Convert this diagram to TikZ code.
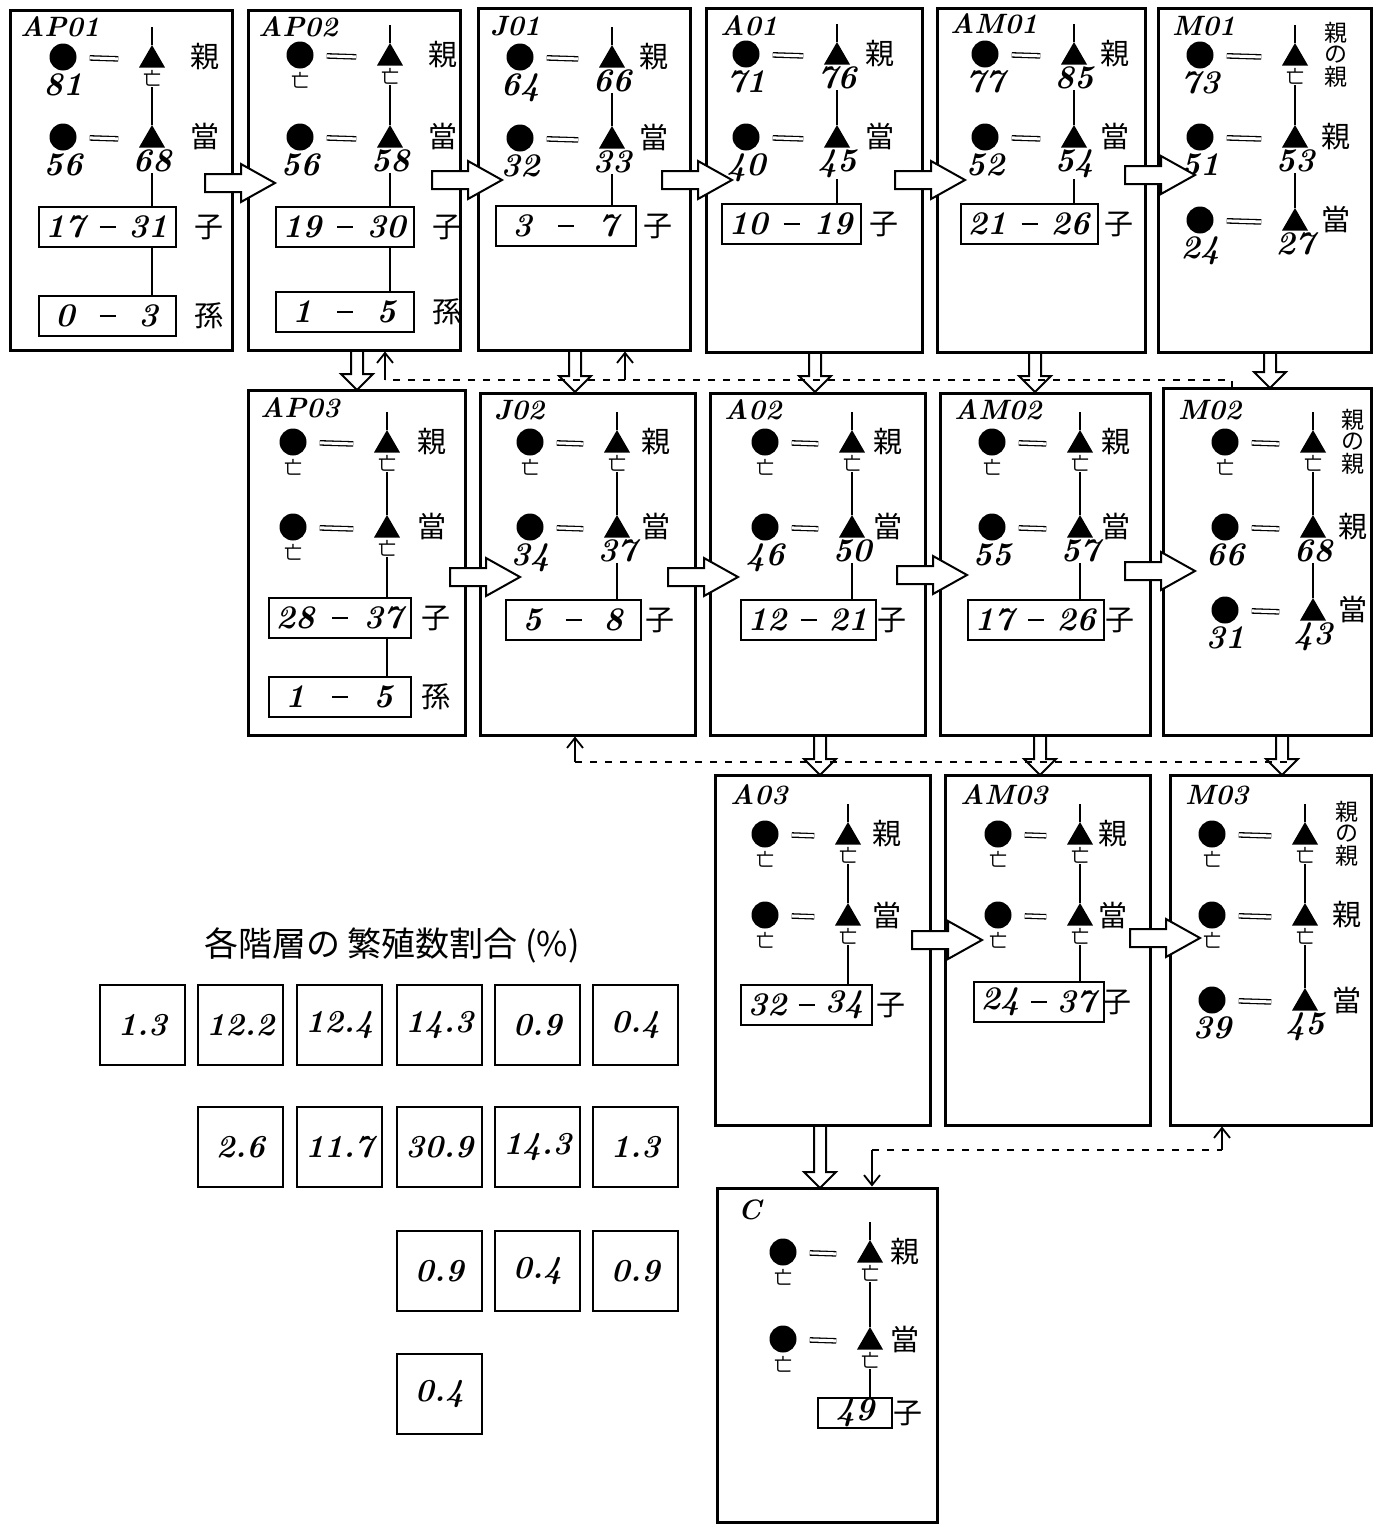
\documentclass[tikz,border=0pt]{standalone}
\usepackage{fontspec}
\newfontfamily\jp{Noto Sans CJK JP}
\usetikzlibrary{shapes.geometric,arrows.meta,calc}
\newcommand\nm[1]{{\fontsize{33}{33}\selectfont\bfseries\itshape #1}}
\newcommand\dd{{\jp\fontsize{18}{18}\selectfont 亡}}
\newcommand\X{當}
\newcommand\oya{{\fontsize{23}{23}\selectfont\shortstack{親\\の\\親}}}
\def\cx{45}\def\tx{137}\def\kx{180}
\tikzset{
 box/.style={draw, line width=3pt, inner sep=0pt},
 fem/.style={circle, fill=black, minimum size=27pt, inner sep=0pt},
 mal/.style={regular polygon, regular polygon sides=3, fill=black, minimum size=30pt, inner sep=0pt},
 lab/.style={inner sep=1pt},
 kan/.style={font=\jp\fontsize{29}{29}\selectfont, inner sep=0pt},
 lbl/.style={font=\fontsize{28}{28}\selectfont\bfseries\itshape, anchor=west, inner sep=0pt},
 rng/.style={draw, line width=2.6pt, minimum width=148pt, minimum height=40pt, inner sep=0pt},
 link/.style={line width=2.4pt},
 pair/.style={double, double distance=3pt, line width=1.3pt, shorten <=13pt, shorten >=25pt},
 harrow/.style={draw, line width=2pt, fill=white, line join=miter},
 fb/.style={line width=1.6pt, dash pattern=on 7pt off 8pt},
 fbarr/.style={line width=1.8pt, -{Straight Barb[length=10pt,width=16pt]}},
 pct/.style={draw, line width=2.8pt, minimum width=85pt, minimum height=80pt, inner sep=0pt, font=\fontsize{32}{32}\selectfont\bfseries\itshape},
}
\newcommand\famBox[5]{\node[box, minimum width={#4-#2}, minimum height={#5-#3}] (#1) at ({(#2+#4)/2},{(#3+#5)/2}) {};}
\newcommand\famrow[6]{%
 \node[fem] (#1f) at ({#2+\cx},#3) {};
 \node[mal] (#1m) at ({#2+\tx},{#3+3}) {};
 \node[lab, anchor=north] (#1fl) at ([yshift=-2pt]#1f.south) {#4};
 \node[lab, anchor=north] (#1ml) at ([yshift=-1pt]#1m.south) {#5};
 \draw[pair] (#1f) -- (#1m);
 \node[kan] (#1k) at ({#2+\kx},#3) {#6};
}
\newcommand\rangebox[6]{%
 \pgfmathsetmacro\rgc{#2+(\cx+\tx)/2}
 \pgfmathsetmacro\rgw{\tx-\cx+48}
 \node[rng, minimum width=\rgw pt] (#1) at (\rgc,#3) {};
 \node[lab] (#1a) at ({#2+\cx+2},#3) {\nm{#4}};
 \node[lab] (#1b) at ({#2+\tx-4},#3) {\nm{#5}};
 \draw[line width=1.4pt] ({\rgc-8},#3) -- ({\rgc+8},#3);
 \node[kan] (#1k) at ({#2+\kx+4},#3) {#6};
}
\newcommand\lineage[3]{%
 \draw[link] (#1m.north) -- ++(0,-18);
 \draw[link] (#1ml.south) -- (#2m.north);
 \draw[link] (#2ml.south) -- (#2m |- #3.north);
}
\newcommand\rarr[2]{\draw[harrow] (#1,{#2-9}) -- ({#1+36},{#2-9}) -- ({#1+36},{#2-19}) -- ({#1+70},#2) -- ({#1+36},{#2+19}) -- ({#1+36},{#2+9}) -- (#1,{#2+9}) -- cycle;}
\newcommand\darr[3]{\draw[harrow] ({#1-6},#2) -- ({#1-6},{#3-16}) -- ({#1-16},{#3-16}) -- (#1,#3) -- ({#1+16},{#3-16}) -- ({#1+6},{#3-16}) -- ({#1+6},#2);}
\begin{document}
\begin{tikzpicture}[x=1pt,y=-1pt]
\useasboundingbox (0,0) rectangle (1373,1526);
\fill[white] (0,0) rectangle (1373,1526);

% ---------- Row 1 ----------
\def\cx{53}\def\tx{142}\def\kx{195}
\famBox{AP01}{10}{10}{232}{350}
\node[lbl] (AP01n) at (20,27) {AP01};
\famrow{AP01a}{10}{57}{\nm{81}}{\dd}{親}
\famrow{AP01b}{10}{137}{\nm{56}}{\nm{68}}{\X}
\rangebox{AP01r}{10}{227}{17}{31}{子}
\rangebox{AP01s}{10}{316}{0}{3}{孫}
\lineage{AP01a}{AP01b}{AP01r}
\draw[link] (AP01bm |- AP01r.south) -- (AP01bm |- AP01s.north);

\def\cx{52}\def\tx{142}\def\kx{195}
\famBox{AP02}{248}{10}{460}{350}
\node[lbl] (AP02n) at (258,27) {AP02};
\famrow{AP02a}{248}{55}{\dd}{\dd}{親}
\famrow{AP02b}{248}{137}{\nm{56}}{\nm{58}}{\X}
\rangebox{AP02r}{248}{227}{19}{30}{子}
\rangebox{AP02s}{248}{312}{1}{5}{孫}
\lineage{AP02a}{AP02b}{AP02r}
\draw[link] (AP02bm |- AP02r.south) -- (AP02bm |- AP02s.north);

\def\cx{42}\def\tx{134}\def\kx{176}
\famBox{J01}{478}{8}{690}{350}
\node[lbl] (J01n) at (490,26) {J01};
\famrow{J01a}{478}{57}{\nm{64}}{\nm{66}}{親}
\famrow{J01b}{478}{138}{\nm{32}}{\nm{33}}{\X}
\rangebox{J01r}{478}{226}{3}{7}{子}
\lineage{J01a}{J01b}{J01r}

\def\cx{40}\def\tx{131}\def\kx{174}
\famBox{A01}{706}{8}{922}{352}
\node[lbl] (A01n) at (720,26) {A01};
\famrow{A01a}{706}{54}{\nm{71}}{\nm{76}}{親}
\famrow{A01b}{706}{137}{\nm{40}}{\nm{45}}{\X}
\rangebox{A01r}{706}{224}{10}{19}{子}
\lineage{A01a}{A01b}{A01r}

\def\cx{48}\def\tx{137}\def\kx{178}
\famBox{AM01}{937}{8}{1145}{352}
\node[lbl] (AM01n) at (950,24) {AM01};
\famrow{AM01a}{937}{54}{\nm{77}}{\nm{85}}{親}
\famrow{AM01b}{937}{137}{\nm{52}}{\nm{54}}{\X}
\rangebox{AM01r}{937}{224}{21}{26}{子}
\lineage{AM01a}{AM01b}{AM01r}

\def\cx{42}\def\tx{137}\def\kx{178}
\famBox{M01}{1158}{8}{1371}{352}
\node[lbl] (M01n) at (1172,26) {M01};
\famrow{M01a}{1158}{55}{\nm{73}}{\dd}{\oya}
\famrow{M01b}{1158}{137}{\nm{51}}{\nm{53}}{親}
\famrow{M01c}{1158}{220}{\nm{24}}{\nm{27}}{\X}
\draw[link] (M01am.north) -- ++(0,-18);
\draw[link] (M01aml.south) -- (M01bm.north);
\draw[link] (M01bml.south) -- (M01cm.north);

% ---------- Row 2 ----------
\def\cx{45}\def\tx{139}\def\kx{184}
\famBox{AP03}{248}{390}{465}{735}
\node[lbl] (AP03n) at (260,408) {AP03};
\famrow{AP03a}{248}{442}{\dd}{\dd}{親}
\famrow{AP03b}{248}{527}{\dd}{\dd}{\X}
\rangebox{AP03r}{248}{618}{28}{37}{子}
\rangebox{AP03s}{248}{697}{1}{5}{孫}
\lineage{AP03a}{AP03b}{AP03r}
\draw[link] (AP03bm |- AP03r.south) -- (AP03bm |- AP03s.north);

\def\cx{50}\def\tx{137}\def\kx{176}
\famBox{J02}{480}{393}{695}{735}
\node[lbl] (J02n) at (494,410) {J02};
\famrow{J02a}{480}{442}{\dd}{\dd}{親}
\famrow{J02b}{480}{527}{\nm{34}}{\nm{37}}{\X}
\rangebox{J02r}{480}{620}{5}{8}{子}
\lineage{J02a}{J02b}{J02r}

\def\cx{55}\def\tx{142}\def\kx{178}
\famBox{A02}{710}{393}{925}{735}
\node[lbl] (A02n) at (724,410) {A02};
\famrow{A02a}{710}{442}{\dd}{\dd}{親}
\famrow{A02b}{710}{527}{\nm{46}}{\nm{50}}{\X}
\rangebox{A02r}{710}{620}{12}{21}{子}
\lineage{A02a}{A02b}{A02r}

\def\cx{52}\def\tx{140}\def\kx{176}
\famBox{AM02}{940}{393}{1150}{735}
\node[lbl] (AM02n) at (954,410) {AM02};
\famrow{AM02a}{940}{442}{\dd}{\dd}{親}
\famrow{AM02b}{940}{527}{\nm{55}}{\nm{57}}{\X}
\rangebox{AM02r}{940}{620}{17}{26}{子}
\lineage{AM02a}{AM02b}{AM02r}

\def\cx{62}\def\tx{150}\def\kx{190}
\famBox{M02}{1163}{388}{1371}{735}
\node[lbl] (M02n) at (1178,410) {M02};
\famrow{M02a}{1163}{442}{\dd}{\dd}{\oya}
\famrow{M02b}{1163}{527}{\nm{66}}{\nm{68}}{親}
\famrow{M02c}{1163}{610}{\nm{31}}{\nm{43}}{\X}
\draw[link] (M02am.north) -- ++(0,-18);
\draw[link] (M02aml.south) -- (M02bm.north);
\draw[link] (M02bml.south) -- (M02cm.north);

% ---------- Row 3 ----------
\def\cx{50}\def\tx{133}\def\kx{172}
\famBox{A03}{715}{775}{930}{1125}
\node[lbl] (A03n) at (730,795) {A03};
\famrow{A03a}{715}{834}{\dd}{\dd}{親}
\famrow{A03b}{715}{915}{\dd}{\dd}{\X}
\rangebox{A03r}{715}{1005}{32}{34}{子}
\lineage{A03a}{A03b}{A03r}

\def\cx{53}\def\tx{135}\def\kx{168}
\famBox{AM03}{945}{775}{1150}{1125}
\node[lbl] (AM03n) at (960,795) {AM03};
\famrow{AM03a}{945}{834}{\dd}{\dd}{親}
\famrow{AM03b}{945}{915}{\dd}{\dd}{\X}
\rangebox{AM03r}{945}{1002}{24}{37}{子}
\lineage{AM03a}{AM03b}{AM03r}

\def\cx{42}\def\tx{135}\def\kx{177}
\famBox{M03}{1170}{775}{1371}{1125}
\node[lbl] (M03n) at (1185,795) {M03};
\famrow{M03a}{1170}{834}{\dd}{\dd}{\oya}
\famrow{M03b}{1170}{915}{\dd}{\dd}{親}
\famrow{M03c}{1170}{1000}{\nm{39}}{\nm{45}}{\X}
\draw[link] (M03am.north) -- ++(0,-18);
\draw[link] (M03aml.south) -- (M03bm.north);
\draw[link] (M03bml.south) -- (M03cm.north);

% ---------- C ----------
\def\cx{66}\def\tx{153}\def\kx{188}
\famBox{C}{717}{1188}{937}{1522}
\node[lbl] (Cn) at (738,1210) {C};
\famrow{Ca}{717}{1252}{\dd}{\dd}{親}
\famrow{Cb}{717}{1339}{\dd}{\dd}{\X}
\node[rng, minimum width=74pt, minimum height=30pt] (Cr) at (855,1413) {};
\node[lab] (Crn) at (855,1413) {\nm{49}};
\node[kan] (Crk) at (908,1413) {子};
\lineage{Ca}{Cb}{Cr}

% ---------- block arrows ----------
\rarr{205}{183}
\rarr{432}{180}
\rarr{662}{180}
\rarr{895}{180}
\rarr{1125}{175}
\rarr{450}{577}
\rarr{668}{577}
\rarr{897}{575}
\rarr{1125}{571}
\rarr{912}{940}
\rarr{1130}{938}
\darr{357}{352}{390}
\darr{575}{352}{392}
\darr{815}{354}{392}
\darr{1035}{354}{392}
\darr{1270}{354}{388}
\darr{820}{737}{775}
\darr{1040}{737}{775}
\darr{1282}{737}{775}
\darr{820}{1127}{1188}

% ---------- feedback lines ----------
\draw[fb] (1232,388) -- (1232,380) -- (385,380);
\draw[fbarr] (385,380) -- (AP02.south -| 385,0);
\draw[fbarr] (625,380) -- (J01.south -| 625,0);
\draw[fb] (575,762) -- (1290,762);
\draw[fbarr] (575,762) -- (J02.south -| 575,0);
\draw[fb] (872,1150) -- (1222,1150);
\draw[fbarr] (1222,1150) -- (M03.south -| 1222,0);
\draw[fbarr] (872,1150) -- (C.north -| 872,0);

% ---------- percentage table ----------
\node[font=\jp\fontsize{34}{34}\selectfont] (title) at (392,945) {各階層の 繁殖数割合 (\%)};
\node[pct] (p11) at (142.5,1025) {1.3};
\node[pct] (p12) at (240.5,1025) {12.2};
\node[pct] (p13) at (339.5,1025) {12.4};
\node[pct] (p14) at (439.5,1025) {14.3};
\node[pct] (p15) at (537.5,1025) {0.9};
\node[pct] (p16) at (635.5,1025) {0.4};
\node[pct] (p22) at (240.5,1147) {2.6};
\node[pct] (p23) at (339.5,1147) {11.7};
\node[pct] (p24) at (439.5,1147) {30.9};
\node[pct] (p25) at (537.5,1147) {14.3};
\node[pct] (p26) at (635.5,1147) {1.3};
\node[pct] (p34) at (439.5,1271) {0.9};
\node[pct] (p35) at (537.5,1271) {0.4};
\node[pct] (p36) at (635.5,1271) {0.9};
\node[pct] (p44) at (439.5,1394) {0.4};
\end{tikzpicture}
\end{document}
